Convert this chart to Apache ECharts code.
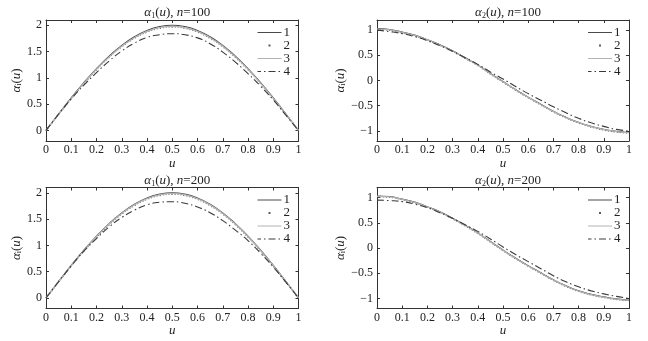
<!DOCTYPE html>
<html><head><meta charset="utf-8">
<script src="https://cdn.jsdelivr.net/npm/echarts@6/dist/echarts.min.js"></script>
<style>html,body{margin:0;padding:0;background:#fff}#c{width:648px;height:341px}</style>
</head><body><div id="c"></div>
<script>
// u values
const U = [0,0.05,0.1,0.15,0.2,0.25,0.3,0.35,0.4,0.45,0.5,0.55,0.6,0.65,0.7,0.75,0.8,0.85,0.9,0.95,1];
const xTicks = [0,0.1,0.2,0.3,0.4,0.5,0.6,0.7,0.8,0.9,1];
const yTicksA1 = [0,0.5,1,1.5,2];
const yTicksA2 = [-1,-0.5,0,0.5,1];
const seriesNames = ['1','2','3','4'];
const titlesN = ['100','100','200','200'];

// alpha_1(u), n=100
const a1n100_1 = [0,0.313,0.618,0.908,1.176,1.414,1.618,1.782,1.902,1.975,2.0,1.975,1.902,1.782,1.618,1.414,1.176,0.908,0.618,0.313,0];
const a1n100_2 = [0,0.308,0.609,0.894,1.158,1.393,1.594,1.755,1.873,1.945,1.970,1.945,1.873,1.755,1.594,1.393,1.158,0.894,0.609,0.308,0];
const a1n100_3 = [0,0.310,0.612,0.899,1.164,1.400,1.602,1.764,1.883,1.955,1.980,1.955,1.883,1.764,1.602,1.400,1.164,0.899,0.612,0.310,0];
const a1n100_4 = [0,0.31,0.60,0.86,1.10,1.32,1.51,1.66,1.77,1.82,1.84,1.82,1.76,1.65,1.49,1.30,1.08,0.84,0.58,0.29,0];
// alpha_2(u), n=100
const a2n100_1 = [1.03,1.01,0.96,0.90,0.81,0.71,0.59,0.45,0.31,0.14,-0.02,-0.18,-0.33,-0.47,-0.61,-0.73,-0.83,-0.91,-0.97,-1.01,-1.03];
const a2n100_2 = [1.02,1.00,0.95,0.89,0.80,0.70,0.58,0.44,0.30,0.13,-0.03,-0.19,-0.34,-0.48,-0.62,-0.74,-0.84,-0.92,-0.98,-1.02,-1.04];
const a2n100_3 = [1.02,1.005,0.955,0.895,0.805,0.705,0.585,0.445,0.305,0.135,-0.025,-0.185,-0.335,-0.475,-0.615,-0.735,-0.835,-0.915,-0.975,-1.015,-1.035];
const a2n100_4 = [1.00,0.97,0.93,0.87,0.79,0.69,0.58,0.45,0.32,0.17,0.03,-0.12,-0.26,-0.39,-0.52,-0.64,-0.75,-0.84,-0.91,-0.97,-1.00];
// alpha_1(u), n=200
const a1n200_1 = [0,0.313,0.618,0.908,1.176,1.414,1.618,1.782,1.902,1.975,2.0,1.975,1.902,1.782,1.618,1.414,1.176,0.908,0.618,0.313,0];
const a1n200_2 = [0,0.309,0.610,0.896,1.160,1.396,1.597,1.759,1.877,1.949,1.974,1.949,1.877,1.759,1.597,1.396,1.160,0.896,0.610,0.309,0];
const a1n200_3 = [0,0.311,0.614,0.902,1.168,1.405,1.607,1.770,1.889,1.961,1.986,1.961,1.889,1.770,1.607,1.405,1.168,0.902,0.614,0.311,0];
const a1n200_4 = [0,0.31,0.61,0.89,1.13,1.35,1.53,1.67,1.77,1.82,1.83,1.80,1.73,1.62,1.47,1.29,1.09,0.85,0.59,0.30,0];
// alpha_2(u), n=200
const a2n200_1 = [1.03,1.02,0.97,0.91,0.82,0.72,0.59,0.45,0.30,0.13,-0.04,-0.20,-0.35,-0.49,-0.63,-0.75,-0.85,-0.92,-0.97,-1.01,-1.03];
const a2n200_2 = [1.02,1.01,0.96,0.90,0.81,0.71,0.58,0.44,0.29,0.12,-0.05,-0.21,-0.36,-0.50,-0.64,-0.76,-0.86,-0.93,-0.98,-1.02,-1.04];
const a2n200_3 = [1.025,1.015,0.965,0.905,0.815,0.715,0.585,0.445,0.295,0.125,-0.045,-0.205,-0.355,-0.495,-0.635,-0.755,-0.855,-0.925,-0.975,-1.015,-1.035];
const a2n200_4 = [0.95,0.94,0.92,0.87,0.80,0.70,0.59,0.46,0.33,0.18,0.02,-0.13,-0.27,-0.41,-0.55,-0.67,-0.77,-0.85,-0.91,-0.96,-1.00];

const panelData = [
  [a1n100_1,a1n100_2,a1n100_3,a1n100_4],
  [a2n100_1,a2n100_2,a2n100_3,a2n100_4],
  [a1n200_1,a1n200_2,a1n200_3,a1n200_4],
  [a2n200_1,a2n200_2,a2n200_3,a2n200_4]
];

const FONT = 'Liberation Serif';
const AX = '#333';
const grids = [
  {left:46, top:20, width:252.5, height:121},
  {left:377, top:20, width:252, height:121},
  {left:46, top:187.5, width:252.5, height:121},
  {left:377, top:187.5, width:252, height:121}
];
const styles = [
  {color:'#4a4a4a', width:1.1, type:'solid'},
  {color:'#5a5a5a', width:1.6, type:[1,2]},
  {color:'#b4b4b4', width:1.2, type:'solid'},
  {color:'#3a3a3a', width:1.1, type:[7,3,1.5,3]}
];
function fmt(v){ const r=Math.round(v*10)/10; return r<0 ? '\u2212'+String(-r) : String(r); }
const richBase = {
  a:{fontFamily:FONT, fontStyle:'italic', fontWeight:'normal', fontSize:13, color:'#222'},
  t:{fontFamily:FONT, fontWeight:'normal', fontSize:13, color:'#222'},
  s:{fontFamily:FONT, fontWeight:'normal', fontSize:8, color:'#222', padding:[6,0,0,0]}
};

const xAxis=[], yAxis=[], series=[], title=[], legend=[];
grids.forEach((g,i)=>{
  const isA1 = (i%2===0);
  const yT = isA1 ? yTicksA1 : yTicksA2;
  const ymin = isA1 ? -0.2 : -1.2, ymax = isA1 ? 2.1 : 1.2;
  const tickIn = {show:true, inside:true, length:3, lineStyle:{color:AX}};
  xAxis.push({type:'value', gridIndex:i, min:0, max:1, position:'bottom',
    axisLine:{onZero:false, lineStyle:{color:AX}}, splitLine:{show:false},
    axisTick:Object.assign({customValues:xTicks}, tickIn),
    axisLabel:{customValues:xTicks, formatter:fmt, color:'#222', fontFamily:FONT, fontSize:12, margin:3},
    name:'u', nameLocation:'middle', nameGap:13,
    nameTextStyle:{fontFamily:FONT, fontStyle:'italic', fontSize:13, color:'#222'}});
  xAxis.push({type:'value', gridIndex:i, min:0, max:1, position:'top',
    axisLine:{onZero:false, lineStyle:{color:AX}}, splitLine:{show:false},
    axisTick:Object.assign({customValues:xTicks}, tickIn), axisLabel:{show:false}});
  yAxis.push({type:'value', gridIndex:i, min:ymin, max:ymax, position:'left',
    axisLine:{show:true, onZero:false, lineStyle:{color:AX}}, splitLine:{show:false},
    axisTick:Object.assign({customValues:yT}, tickIn),
    axisLabel:{customValues:yT, formatter:fmt, color:'#222', fontFamily:FONT, fontSize:12, margin:4},
    name:'{a|\u03b1}{s|i}{t|(}{a|u}{t|)}', nameLocation:'middle', nameGap:14, nameRotate:90,
    nameTextStyle:{color:'#222', rich:richBase}});
  yAxis.push({type:'value', gridIndex:i, min:ymin, max:ymax, position:'right',
    axisLine:{show:true, onZero:false, lineStyle:{color:AX}}, splitLine:{show:false},
    axisTick:Object.assign({customValues:yT}, tickIn), axisLabel:{show:false}});
  panelData[i].forEach((arr,k)=>{
    series.push({type:'line', name:seriesNames[k], xAxisIndex:2*i, yAxisIndex:2*i,
      data:U.map((u,j)=>[u,arr[j]]), showSymbol:false, symbol:'none',
      smooth:true, silent:true, animation:false,
      itemStyle:{color:styles[k].color},
      lineStyle:{color:styles[k].color, width:styles[k].width, type:styles[k].type}});
  });
  const cx = g.left + g.width/2;
  title.push({left:cx, top: i<2 ? 1 : 168.5, textAlign:'center',
    text:'{a|\u03b1}{s|'+(isA1?'1':'2')+'}{t|(}{a|u}{t|), }{a|n}{t|='+titlesN[i]+'}',
    textStyle:{fontWeight:'normal', rich:richBase}});
  legend.push({orient:'vertical', left:g.left+g.width-42, top:g.top+6,
    itemWidth:24, itemHeight:8, itemGap:0, padding:0, selectedMode:false,
    itemStyle:{opacity:0},
    textStyle:{fontFamily:FONT, fontSize:13, color:'#222', lineHeight:9.5, padding:[0,0,0,-3]},
    data:[{name:'1', lineStyle:{width:1}},
          {name:'2', lineStyle:{type:[2,40], dashOffset:-11, width:2}},
          {name:'3', lineStyle:{width:1}},
          {name:'4', lineStyle:{width:1}}]});
});

const chart = echarts.init(document.getElementById('c'), null, {renderer:'canvas'});
chart.setOption({backgroundColor:'#fff', animation:false, textStyle:{fontFamily:FONT},
  grid:grids, xAxis, yAxis, series, title, legend});
</script></body></html>
